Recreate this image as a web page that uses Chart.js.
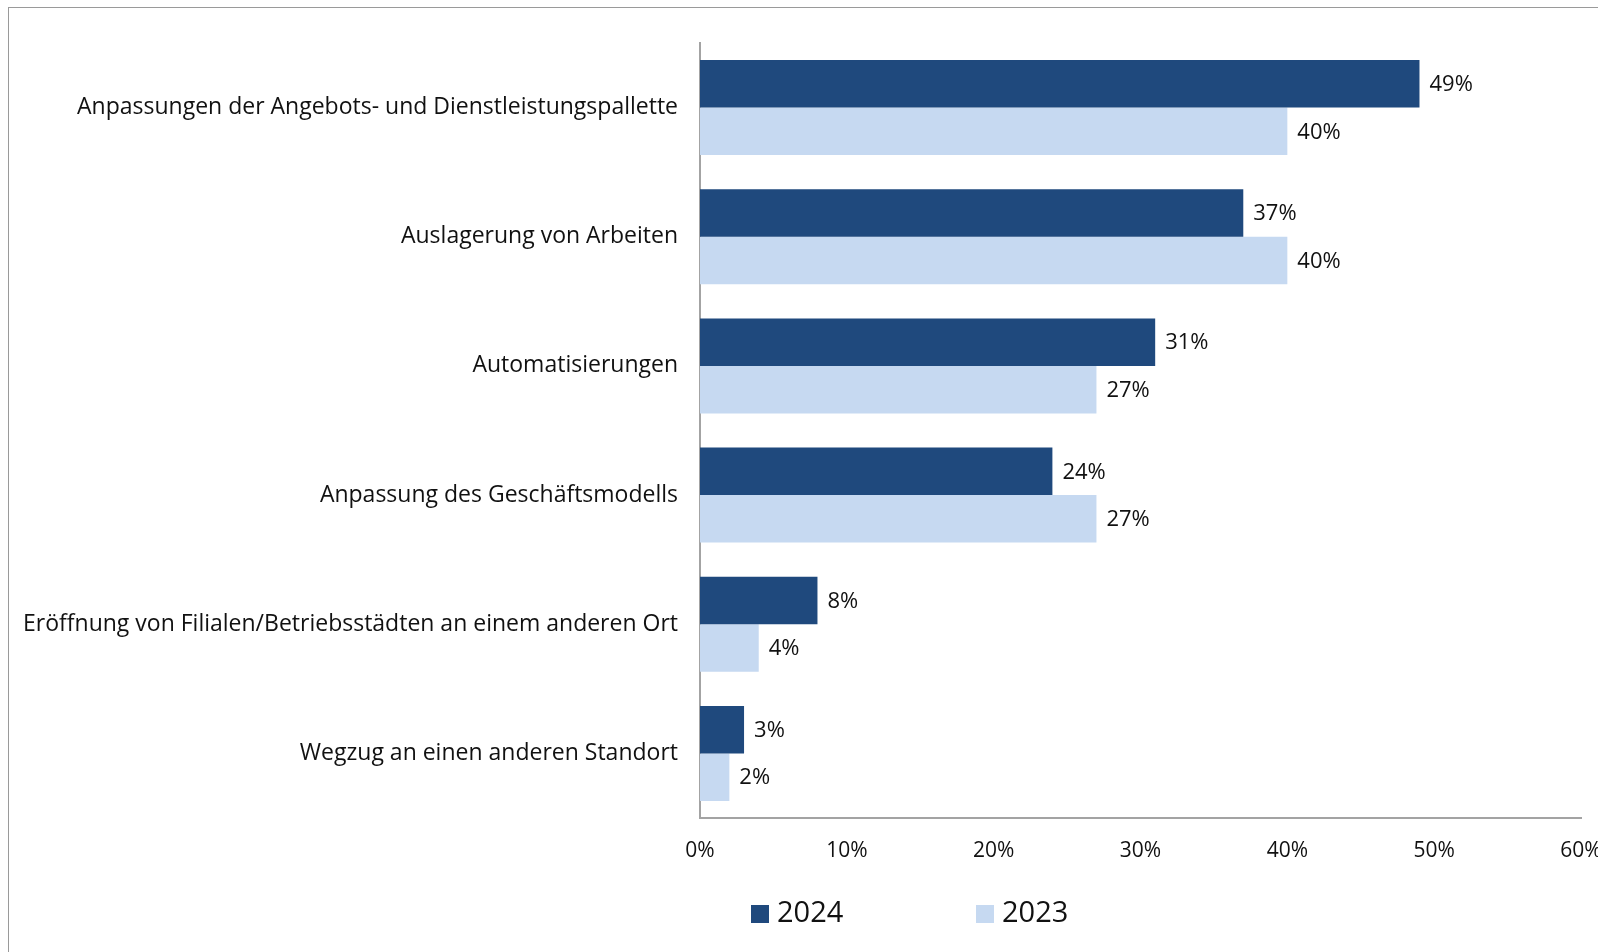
<!DOCTYPE html>
<html lang="de">
<head>
<meta charset="utf-8">
<title>Massnahmen 2024 / 2023</title>
<script src="https://cdn.jsdelivr.net/npm/chart.js@4.4.1/dist/chart.umd.min.js"></script>
<style>
  html, body { margin: 0; padding: 0; background: #fff; overflow: hidden; }
  #wrap { position: relative; width: 1598px; height: 952px; overflow: hidden; }
  #frame {
    position: absolute; left: 8px; top: 7px;
    width: 1700px; height: 1100px;
    border: 1px solid #9a9a9a;
  }
  #chart-box { position: absolute; left: 0; top: 0; width: 1640px; height: 952px; }
</style>
</head>
<body>
<div id="wrap">
  <div id="frame"></div>
  <div id="chart-box"><canvas id="massnahmenChart"></canvas></div>
</div>
<script>
const categories = [
  "Anpassungen der Angebots- und Dienstleistungspallette",
  "Auslagerung von Arbeiten",
  "Automatisierungen",
  "Anpassung des Geschäftsmodells",
  "Eröffnung von Filialen/Betriebsstädten an einem anderen Ort",
  "Wegzug an einen anderen Standort",
];
const values2024 = [49, 37, 31, 24, 8, 3];
const values2023 = [40, 40, 27, 27, 4, 2];
const xTicks = [0, 10, 20, 30, 40, 50, 60];

const FONT = "'Open Sans', Lato, sans-serif";

// value labels next to each bar
const barLabels = {
  id: "barLabels",
  afterDatasetsDraw(chart) {
    const { ctx } = chart;
    ctx.save();
    ctx.font = "22px " + FONT;
    ctx.fillStyle = "#111";
    ctx.textAlign = "left";
    ctx.textBaseline = "middle";
    chart.data.datasets.forEach((ds, i) => {
      chart.getDatasetMeta(i).data.forEach((bar, j) => {
        ctx.fillText(ds.data[j] + "%", bar.x + 10, bar.y + 1);
      });
    });
    ctx.restore();
  },
};

// legend under the x axis
const bottomLegend = {
  id: "bottomLegend",
  afterDraw(chart) {
    const { ctx } = chart;
    const starts = [751, 976];
    ctx.save();
    ctx.font = "29px " + FONT;
    ctx.textBaseline = "middle";
    chart.data.datasets.forEach((ds, i) => {
      const x = starts[i];
      ctx.fillStyle = ds.backgroundColor;
      ctx.fillRect(x, 905, 18, 18);
      ctx.fillStyle = "#111";
      ctx.fillText(ds.label, x + 26, 914);
    });
    ctx.restore();
  },
};

const ctx = document.getElementById("massnahmenChart").getContext("2d");
new Chart(ctx, {
  type: "bar",
  data: {
    labels: categories,
    datasets: [
      {
        label: "2024",
        data: values2024,
        backgroundColor: "#1f497d",
        categoryPercentage: 0.735,
        barPercentage: 1,
      },
      {
        label: "2023",
        data: values2023,
        backgroundColor: "#c6d9f1",
        categoryPercentage: 0.735,
        barPercentage: 1,
      },
    ],
  },
  options: {
    indexAxis: "y",
    responsive: true,
    maintainAspectRatio: false,
    animation: false,
    layout: { padding: { top: 43, left: 0, right: 59, bottom: 0 } },
    plugins: {
      legend: { display: false },
      tooltip: { enabled: false },
    },
    scales: {
      x: {
        min: 0,
        max: 60,
        afterBuildTicks: (scale) => {
          scale.ticks = xTicks.map((v) => ({ value: v }));
        },
        afterFit: (scale) => {
          scale.height = 134;
        },
        grid: { display: false, drawTicks: false },
        border: { display: true, color: "#a3a3a3", width: 2 },
        ticks: {
          padding: 20,
          color: "#111",
          font: { family: FONT, size: 21 },
          maxRotation: 0,
          callback: (v) => v + "%",
        },
      },
      y: {
        afterFit: (scale) => {
          scale.width = 700;
        },
        grid: { display: false, drawTicks: false },
        border: { display: true, color: "#a3a3a3", width: 2 },
        ticks: {
          padding: 22,
          color: "#111",
          font: { family: FONT, size: 23 },
        },
      },
    },
  },
  plugins: [barLabels, bottomLegend],
});
</script>
</body>
</html>
